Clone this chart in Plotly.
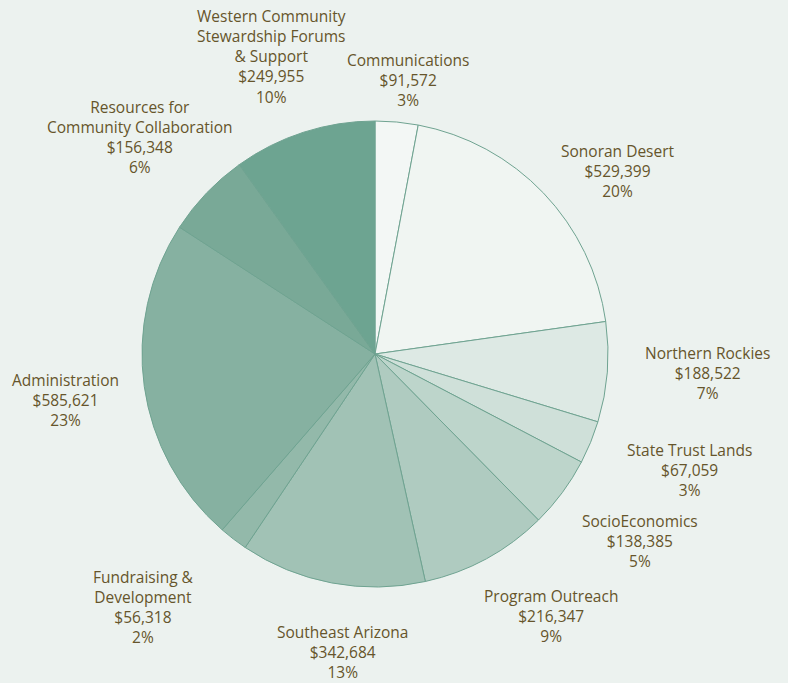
import plotly.graph_objects as go

W, H = 788, 683

categories = ["Communications", "Sonoran Desert", "Northern Rockies", "State Trust Lands",
              "SocioEconomics", "Program Outreach", "Southeast Arizona", "Fundraising &<br>Development",
              "Administration", "Resources for<br>Community Collaboration",
              "Western Community<br>Stewardship Forums<br>& Support"]
dollars = [91572, 529399, 188522, 67059, 138385, 216347, 342684, 56318, 585621, 156348, 249955]
percents = [3, 20, 7, 3, 5, 9, 13, 2, 23, 6, 10]

slice_colors = ["#f3f7f5", "#f0f5f2", "#dde9e4", "#cfe0d9", "#bdd5cb", "#afcbc0",
                "#a1c2b5", "#93b9aa", "#86b1a1", "#79a997", "#6da491"]

# label block centres in pixels (x, y)
label_pos = [(408, 80), (618, 171), (707, 373), (689, 470), (640, 541), (551, 616),
             (342, 652), (143, 607), (65, 400), (140, 137), (271, 56)]

BG = "#ecf2ef"
TXT = "#66552b"
FONT = "Open Sans"

fig = go.Figure(go.Pie(
    labels=[c.replace("<br>", " ") for c in categories],
    values=percents,
    customdata=dollars,
    sort=False,
    direction="clockwise",
    rotation=0,
    marker=dict(colors=slice_colors, line=dict(color="#6fa391", width=1)),
    textinfo="none",
    hovertemplate="%{label}<br>$%{customdata:,}<extra></extra>",
    showlegend=False,
    domain=dict(x=[142 / W, 608 / W], y=[1 - 587 / H, 1 - 121 / H]),
))

annotations = []
for cat, val, pct, (px, py) in zip(categories, dollars, percents, label_pos):
    annotations.append(dict(
        x=px / W, y=1 - py / H, xref="paper", yref="paper",
        xanchor="center", yanchor="middle", showarrow=False,
        text=f"{cat}<br>${val:,}<br>{pct}%",
        font=dict(family=FONT, size=15.5, color=TXT),
        align="center",
    ))

fig.update_layout(
    width=W, height=H,
    margin=dict(l=0, r=0, t=0, b=0),
    paper_bgcolor=BG, plot_bgcolor=BG,
    annotations=annotations,
)

fig.write_html("out.html", config={"displayModeBar": False},
               post_script="document.body.style.margin='0';document.body.style.background='%s';" % BG)
